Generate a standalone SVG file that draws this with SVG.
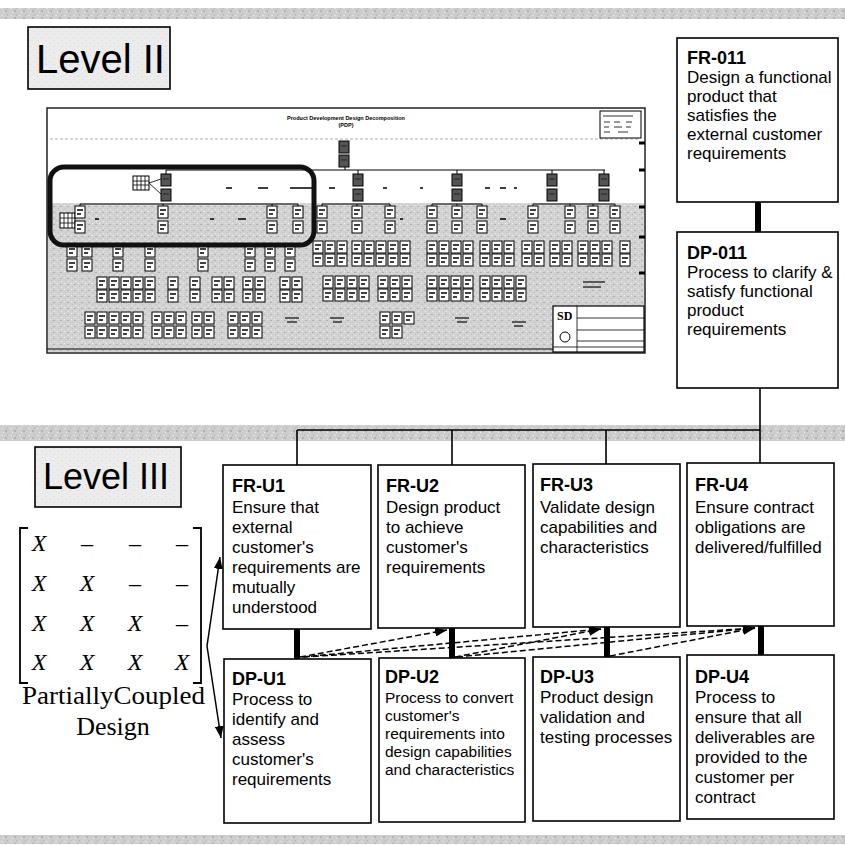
<svg xmlns="http://www.w3.org/2000/svg" width="845" height="846" viewBox="0 0 845 846">
<defs>
  <pattern id="noise" width="9" height="7" patternUnits="userSpaceOnUse">
    <rect width="9" height="7" fill="#cdcdcd"/>
    <rect x="1" y="1" width="2" height="1" fill="#e4e4e4"/>
    <rect x="5" y="3" width="2" height="2" fill="#b2b2b2"/>
    <rect x="3" y="5" width="1" height="1" fill="#eeeeee"/>
    <rect x="7" y="0" width="1" height="2" fill="#bbbbbb"/>
  </pattern>
  <pattern id="noise2" width="7" height="6" patternUnits="userSpaceOnUse">
    <rect width="7" height="6" fill="#d2d2d2"/>
    <rect x="1" y="1" width="1" height="1" fill="#f0f0f0"/>
    <rect x="4" y="2" width="2" height="1" fill="#b0b0b0"/>
    <rect x="2" y="4" width="1" height="1" fill="#c0c0c0"/>
    <rect x="5" y="5" width="1" height="1" fill="#ededed"/>
  </pattern>
  <pattern id="noise3" width="8" height="6" patternUnits="userSpaceOnUse">
    <rect width="8" height="6" fill="#ececec"/>
    <rect x="2" y="1" width="1" height="1" fill="#dcdcdc"/>
    <rect x="5" y="4" width="2" height="1" fill="#e0e0e0"/>
  </pattern>
  <marker id="ah" viewBox="0 0 12 9" refX="12" refY="4.5" markerWidth="12" markerHeight="9" markerUnits="userSpaceOnUse" orient="auto">
    <path d="M0,0 L12,4.5 L0,9 z" fill="#000"/>
  </marker>
  <g id="c"><rect width="10" height="12" fill="#fff" stroke="#000" stroke-width="1"/><path d="M2 4h6M2 8h4" stroke="#000" stroke-width="1.4"/></g>
  <g id="d"><rect width="10" height="12" fill="#555" stroke="#000" stroke-width="1"/><path d="M2 5h6" stroke="#222" stroke-width="1"/></g>
</defs>
<style>
  .box{fill:#fff;stroke:#000;stroke-width:1.6}
  .hd{font-family:"Liberation Sans",Arial,sans-serif;font-weight:bold;font-size:18px;fill:#000}
  .tx{font-family:"Liberation Sans",Arial,sans-serif;font-size:17px;fill:#000}
  .sm{font-size:15.5px}
  .lvl{font-family:"Liberation Sans",Arial,sans-serif;fill:#000}
  .thick{stroke:#000;stroke-width:6}
  .thin{stroke:#000;stroke-width:1.6;fill:none}
  .dash{stroke:#000;stroke-width:1.5;stroke-dasharray:6 3;fill:none;marker-end:url(#ah)}
  .arr{stroke:#000;stroke-width:1.5;fill:none;marker-end:url(#ah)}
  .mx{font-family:"Liberation Serif","Times New Roman",serif;font-style:italic;font-size:24px;text-anchor:middle;fill:#000}
  .serif{font-family:"Liberation Serif","Times New Roman",serif;font-size:26px;fill:#000}
  .ln{stroke:#000;stroke-width:1;fill:none}
  .tiny{font-family:"Liberation Sans",Arial,sans-serif;font-size:5.5px;font-weight:bold;text-anchor:middle;fill:#000}
</style>

<!-- background bands -->
<rect width="845" height="846" fill="#fff"/>
<rect x="0" y="8" width="845" height="11" fill="url(#noise)"/>
<rect x="0" y="425" width="845" height="16" fill="url(#noise)"/>
<rect x="0" y="835" width="845" height="9" fill="url(#noise)"/>

<!-- Level II label -->
<g id="level2">
  <rect x="28" y="27" width="142" height="62" fill="url(#noise3)" stroke="#000" stroke-width="1.6"/>
  <text class="lvl" x="36" y="73" font-size="40">Level II</text>
</g>

<!-- embedded Level II decomposition picture -->
<g id="decomposition">
  <rect x="47" y="108" width="598" height="245" fill="#fff" stroke="#222" stroke-width="1.5"/>
  <rect x="48" y="203" width="596" height="149" fill="url(#noise2)"/>
  <text class="tiny" x="346" y="120">Product Development Design Decomposition</text>
  <text class="tiny" x="346" y="127">(PDP)</text>
  <line x1="50" y1="139" x2="640" y2="139" stroke="#999" stroke-width="0.8" stroke-dasharray="3 2"/>
  <rect x="600" y="111" width="41" height="27" fill="#fff" stroke="#000" stroke-width="1"/>
  <path d="M603 116h30M604 122h6M614 122h6M626 122h6M604 127h5M614 127h8M626 127h5M604 132h6M618 132h10" stroke="#333" stroke-width="1"/>
  <path d="M639 143h6M639 170h6M639 207h6M639 237h6M639 273h6" stroke="#000" stroke-width="3"/>
  <use href="#d" x="339" y="141"/><use href="#d" x="339" y="155"/>
  <path class="ln" d="M345 167V170M166 170H605M166 170V174M358 170V174M457 170V174M552 170V174M604 170V174"/>
  <use href="#d" x="161" y="174"/><use href="#d" x="161" y="189"/>
  <use href="#d" x="353" y="174"/><use href="#d" x="353" y="189"/>
  <use href="#d" x="452" y="174"/><use href="#d" x="452" y="189"/>
  <use href="#d" x="547" y="174"/><use href="#d" x="547" y="189"/>
  <use href="#d" x="599" y="174"/><use href="#d" x="599" y="189"/>
  <rect x="133" y="176" width="16" height="14" fill="#fff" stroke="#000" stroke-width="1"/>
  <path d="M137 176v14M141 176v14M145 176v14M133 181h16M133 185h16M149 183L161 179M149 183L161 194" stroke="#000" stroke-width="0.8"/>
  <rect x="60" y="213" width="15" height="15" fill="#fff" stroke="#000" stroke-width="1"/>
  <path d="M64 213v15M68 213v15M72 213v15M60 218h15M60 223h15" stroke="#000" stroke-width="0.8"/>
  <path d="M226 188h6M258 188h10M290 188h24M329 188h6M383 188h4M420 188h3M485 188h5M500 188h6M514 188h3" stroke="#000" stroke-width="1.6"/>
  <path class="ln" d="M80 204H298M322 204H390M432 204H482M533 204H615M80 204V206M163 204V206M272 204V206M298 204V206M322 204V206M357 204V206M390 204V206M432 204V206M457 204V206M482 204V206M533 204V206M570 204V206M593 204V206M615 204V206"/>
  <use href="#c" x="75" y="206"/><use href="#c" x="75" y="221"/>
  <use href="#c" x="158" y="206"/><use href="#c" x="158" y="221"/>
  <use href="#c" x="267" y="206"/><use href="#c" x="267" y="221"/>
  <use href="#c" x="293" y="206"/><use href="#c" x="293" y="221"/>
  <use href="#c" x="317" y="206"/><use href="#c" x="317" y="221"/>
  <use href="#c" x="352" y="206"/><use href="#c" x="352" y="221"/>
  <use href="#c" x="385" y="206"/><use href="#c" x="385" y="221"/>
  <use href="#c" x="427" y="206"/><use href="#c" x="427" y="221"/>
  <use href="#c" x="452" y="206"/><use href="#c" x="452" y="221"/>
  <use href="#c" x="477" y="206"/><use href="#c" x="477" y="221"/>
  <use href="#c" x="528" y="206"/><use href="#c" x="528" y="221"/>
  <use href="#c" x="565" y="206"/><use href="#c" x="565" y="221"/>
  <use href="#c" x="588" y="206"/><use href="#c" x="588" y="221"/>
  <use href="#c" x="610" y="206"/><use href="#c" x="610" y="221"/>
  <path d="M210 219h4M238 219h8M95 219h4M500 219h6M400 219h3" stroke="#000" stroke-width="1.6"/>
  <use href="#c" x="67" y="245"/><use href="#c" x="67" y="259"/>
  <use href="#c" x="82" y="245"/><use href="#c" x="82" y="259"/>
  <use href="#c" x="113" y="245"/><use href="#c" x="113" y="259"/>
  <use href="#c" x="145" y="245"/><use href="#c" x="145" y="259"/>
  <use href="#c" x="198" y="245"/><use href="#c" x="198" y="259"/>
  <use href="#c" x="245" y="245"/><use href="#c" x="245" y="259"/>
  <use href="#c" x="265" y="245"/><use href="#c" x="265" y="259"/>
  <use href="#c" x="285" y="245"/><use href="#c" x="285" y="259"/>
  <g id="rowBright">
    <use href="#c" x="313" y="241"/><use href="#c" x="325" y="241"/><use href="#c" x="337" y="241"/>
    <use href="#c" x="313" y="254"/><use href="#c" x="325" y="254"/><use href="#c" x="337" y="254"/>
    <use href="#c" x="352" y="241"/><use href="#c" x="364" y="241"/><use href="#c" x="376" y="241"/><use href="#c" x="388" y="241"/><use href="#c" x="400" y="241"/>
    <use href="#c" x="352" y="254"/><use href="#c" x="364" y="254"/><use href="#c" x="376" y="254"/><use href="#c" x="388" y="254"/><use href="#c" x="400" y="254"/>
    <use href="#c" x="427" y="241"/><use href="#c" x="439" y="241"/><use href="#c" x="451" y="241"/><use href="#c" x="463" y="241"/>
    <use href="#c" x="427" y="254"/><use href="#c" x="439" y="254"/><use href="#c" x="451" y="254"/><use href="#c" x="463" y="254"/>
    <use href="#c" x="480" y="241"/><use href="#c" x="492" y="241"/><use href="#c" x="504" y="241"/>
    <use href="#c" x="480" y="254"/><use href="#c" x="492" y="254"/><use href="#c" x="504" y="254"/>
    <use href="#c" x="522" y="241"/><use href="#c" x="534" y="241"/>
    <use href="#c" x="522" y="254"/><use href="#c" x="534" y="254"/>
    <use href="#c" x="550" y="241"/><use href="#c" x="562" y="241"/>
    <use href="#c" x="550" y="254"/><use href="#c" x="562" y="254"/>
    <use href="#c" x="578" y="241"/><use href="#c" x="590" y="241"/><use href="#c" x="602" y="241"/>
    <use href="#c" x="578" y="254"/><use href="#c" x="590" y="254"/><use href="#c" x="602" y="254"/>
    <use href="#c" x="620" y="241"/><use href="#c" x="620" y="254"/>
  </g>
  <g id="rowC">
    <use href="#c" x="97" y="277"/><use href="#c" x="109" y="277"/><use href="#c" x="121" y="277"/><use href="#c" x="133" y="277"/><use href="#c" x="145" y="277"/>
    <use href="#c" x="97" y="290"/><use href="#c" x="109" y="290"/><use href="#c" x="121" y="290"/><use href="#c" x="133" y="290"/><use href="#c" x="145" y="290"/>
    <use href="#c" x="168" y="277"/><use href="#c" x="168" y="290"/>
    <use href="#c" x="190" y="277"/><use href="#c" x="190" y="290"/>
    <use href="#c" x="212" y="277"/><use href="#c" x="224" y="277"/><use href="#c" x="212" y="290"/><use href="#c" x="224" y="290"/>
    <use href="#c" x="243" y="277"/><use href="#c" x="255" y="277"/><use href="#c" x="243" y="290"/><use href="#c" x="255" y="290"/>
    <use href="#c" x="280" y="277"/><use href="#c" x="292" y="277"/><use href="#c" x="280" y="290"/><use href="#c" x="292" y="290"/>
    <use href="#c" x="323" y="276"/><use href="#c" x="335" y="276"/><use href="#c" x="347" y="276"/><use href="#c" x="359" y="276"/>
    <use href="#c" x="323" y="289"/><use href="#c" x="335" y="289"/><use href="#c" x="347" y="289"/><use href="#c" x="359" y="289"/>
    <use href="#c" x="378" y="276"/><use href="#c" x="390" y="276"/><use href="#c" x="402" y="276"/>
    <use href="#c" x="378" y="289"/><use href="#c" x="390" y="289"/><use href="#c" x="402" y="289"/>
    <use href="#c" x="427" y="276"/><use href="#c" x="439" y="276"/><use href="#c" x="451" y="276"/><use href="#c" x="463" y="276"/>
    <use href="#c" x="427" y="289"/><use href="#c" x="439" y="289"/><use href="#c" x="451" y="289"/><use href="#c" x="463" y="289"/>
    <use href="#c" x="480" y="276"/><use href="#c" x="492" y="276"/><use href="#c" x="504" y="276"/><use href="#c" x="516" y="276"/>
    <use href="#c" x="480" y="289"/><use href="#c" x="492" y="289"/><use href="#c" x="504" y="289"/><use href="#c" x="516" y="289"/>
  </g>
  <g id="rowD">
    <use href="#c" x="85" y="312"/><use href="#c" x="97" y="312"/><use href="#c" x="109" y="312"/><use href="#c" x="121" y="312"/><use href="#c" x="133" y="312"/>
    <use href="#c" x="85" y="326"/><use href="#c" x="97" y="326"/><use href="#c" x="109" y="326"/><use href="#c" x="121" y="326"/><use href="#c" x="133" y="326"/>
    <use href="#c" x="152" y="312"/><use href="#c" x="164" y="312"/><use href="#c" x="176" y="312"/>
    <use href="#c" x="152" y="326"/><use href="#c" x="164" y="326"/><use href="#c" x="176" y="326"/>
    <use href="#c" x="192" y="312"/><use href="#c" x="204" y="312"/><use href="#c" x="192" y="326"/><use href="#c" x="204" y="326"/>
    <use href="#c" x="228" y="312"/><use href="#c" x="240" y="312"/><use href="#c" x="252" y="312"/>
    <use href="#c" x="228" y="326"/><use href="#c" x="240" y="326"/><use href="#c" x="252" y="326"/>
    <use href="#c" x="380" y="312"/><use href="#c" x="392" y="312"/><use href="#c" x="404" y="312"/>
    <use href="#c" x="380" y="326"/><use href="#c" x="392" y="326"/>
  </g>
  <path d="M285 318h14M287 322h10M330 318h14M333 322h9M455 318h14M457 322h10M512 322h14M514 326h9M583 282h22M583 287h18" stroke="#333" stroke-width="1.3"/>
  <rect x="553" y="306" width="91" height="46" fill="#fff" stroke="#000" stroke-width="1.2"/>
  <path d="M577 306V352M577 318H644M577 330H644M577 341H644M553 347H644" stroke="#000" stroke-width="0.8"/>
  <text x="557" y="320" font-family="Liberation Serif, Times New Roman, serif" font-size="12" font-weight="bold" fill="#000">SD</text>
  <circle cx="565" cy="337" r="5" fill="#fff" stroke="#000" stroke-width="1"/>
  <path d="M47 349H553" stroke="#000" stroke-width="1.2"/>
  <rect x="50" y="167" width="264" height="78" rx="14" fill="none" stroke="#111" stroke-width="5"/>
</g>

<!-- Level III label -->
<g id="level3">
  <rect x="35" y="447" width="146" height="60" fill="url(#noise3)" stroke="#000" stroke-width="1.6"/>
  <text class="lvl" x="43" y="489" font-size="36">Level III</text>
</g>

<!-- design matrix -->
<g id="matrix">
  <path d="M28 528H20V683H28M193 528H201V683H193" fill="none" stroke="#000" stroke-width="1.8"/>
  <text class="mx" x="39" y="551">X</text><text class="mx" x="87" y="551" font-style="normal">–</text><text class="mx" x="135" y="551" font-style="normal">–</text><text class="mx" x="182" y="551" font-style="normal">–</text>
  <text class="mx" x="39" y="591">X</text><text class="mx" x="87" y="591">X</text><text class="mx" x="135" y="591" font-style="normal">–</text><text class="mx" x="182" y="591" font-style="normal">–</text>
  <text class="mx" x="39" y="631">X</text><text class="mx" x="87" y="631">X</text><text class="mx" x="135" y="631">X</text><text class="mx" x="182" y="631" font-style="normal">–</text>
  <text class="mx" x="39" y="670">X</text><text class="mx" x="87" y="670">X</text><text class="mx" x="135" y="670">X</text><text class="mx" x="182" y="670">X</text>
  <text class="serif" x="22" y="704" textLength="183" lengthAdjust="spacingAndGlyphs">PartiallyCoupled</text>
  <text class="serif" x="113" y="735" text-anchor="middle">Design</text>
</g>

<!-- connectors -->
<g id="connectors">
  <line class="thick" x1="758" y1="202" x2="758" y2="232"/>
  <path class="thin" d="M760 388V464M297 430H760M297 430V466M452 430V465M606 430V464"/>
  <line class="thick" x1="297" y1="629" x2="297" y2="659"/>
  <line class="thick" x1="452" y1="628" x2="452" y2="658"/>
  <line class="thick" x1="607" y1="627" x2="607" y2="657"/>
  <line class="thick" x1="761" y1="626" x2="761" y2="655"/>
  <path class="dash" d="M300 657L447 630"/>
  <path class="dash" d="M302 657L601 629"/>
  <path class="dash" d="M304 657L755 628"/>
  <path class="dash" d="M455 657L601 629"/>
  <path class="dash" d="M457 657L755 628"/>
  <path class="dash" d="M610 656L755 628"/>
  <path class="arr" d="M207 646L220 557"/>
  <path class="arr" d="M207 646L221 738"/>
</g>

<!-- Level II nodes -->
<g id="fr011">
  <rect class="box" x="677" y="38" width="161" height="164"/>
  <text class="hd" x="687" y="64">FR-011</text>
  <text class="tx"><tspan x="687" y="83">Design a functional</tspan><tspan x="687" y="102">product that</tspan><tspan x="687" y="121">satisfies the</tspan><tspan x="687" y="140">external customer</tspan><tspan x="687" y="159">requirements</tspan></text>
</g>
<g id="dp011">
  <rect class="box" x="677" y="232" width="161" height="156"/>
  <text class="hd" x="687" y="259">DP-011</text>
  <text class="tx"><tspan x="687" y="278">Process to clarify &amp;</tspan><tspan x="687" y="297">satisfy functional</tspan><tspan x="687" y="316">product</tspan><tspan x="687" y="335">requirements</tspan></text>
</g>

<!-- Level III FR nodes -->
<g id="fru1">
  <rect class="box" x="223" y="465" width="148" height="164"/>
  <text class="hd" x="232" y="492">FR-U1</text>
  <text class="tx"><tspan x="232" y="513">Ensure that</tspan><tspan x="232" y="533">external</tspan><tspan x="232" y="553">customer's</tspan><tspan x="232" y="573">requirements are</tspan><tspan x="232" y="593">mutually</tspan><tspan x="232" y="613">understood</tspan></text>
</g>
<g id="fru2">
  <rect class="box" x="378" y="465" width="147" height="163"/>
  <text class="hd" x="386" y="492">FR-U2</text>
  <text class="tx"><tspan x="386" y="513">Design product</tspan><tspan x="386" y="533">to achieve</tspan><tspan x="386" y="553">customer's</tspan><tspan x="386" y="573">requirements</tspan></text>
</g>
<g id="fru3">
  <rect class="box" x="533" y="464" width="147" height="163"/>
  <text class="hd" x="540" y="491">FR-U3</text>
  <text class="tx"><tspan x="540" y="513">Validate design</tspan><tspan x="540" y="533">capabilities and</tspan><tspan x="540" y="553">characteristics</tspan></text>
</g>
<g id="fru4">
  <rect class="box" x="687" y="463" width="147" height="163"/>
  <text class="hd" x="695" y="491">FR-U4</text>
  <text class="tx"><tspan x="695" y="513">Ensure contract</tspan><tspan x="695" y="533">obligations are</tspan><tspan x="695" y="553">delivered/fulfilled</tspan></text>
</g>

<!-- Level III DP nodes -->
<g id="dpu1">
  <rect class="box" x="224" y="659" width="147" height="164"/>
  <text class="hd" x="232" y="685">DP-U1</text>
  <text class="tx"><tspan x="232" y="705">Process to</tspan><tspan x="232" y="725">identify and</tspan><tspan x="232" y="745">assess</tspan><tspan x="232" y="765">customer's</tspan><tspan x="232" y="785">requirements</tspan></text>
</g>
<g id="dpu2">
  <rect class="box" x="379" y="658" width="146" height="164"/>
  <text class="hd" x="385" y="683">DP-U2</text>
  <text class="tx sm"><tspan x="385" y="703">Process to convert</tspan><tspan x="385" y="721">customer's</tspan><tspan x="385" y="739">requirements into</tspan><tspan x="385" y="757">design capabilities</tspan><tspan x="385" y="775">and characteristics</tspan></text>
</g>
<g id="dpu3">
  <rect class="box" x="533" y="657" width="147" height="164"/>
  <text class="hd" x="540" y="683">DP-U3</text>
  <text class="tx"><tspan x="540" y="703">Product design</tspan><tspan x="540" y="723">validation and</tspan><tspan x="540" y="743">testing processes</tspan></text>
</g>
<g id="dpu4">
  <rect class="box" x="687" y="655" width="147" height="164"/>
  <text class="hd" x="695" y="683">DP-U4</text>
  <text class="tx"><tspan x="695" y="703">Process to</tspan><tspan x="695" y="723">ensure that all</tspan><tspan x="695" y="743">deliverables are</tspan><tspan x="695" y="763">provided to the</tspan><tspan x="695" y="783">customer per</tspan><tspan x="695" y="803">contract</tspan></text>
</g>
</svg>
